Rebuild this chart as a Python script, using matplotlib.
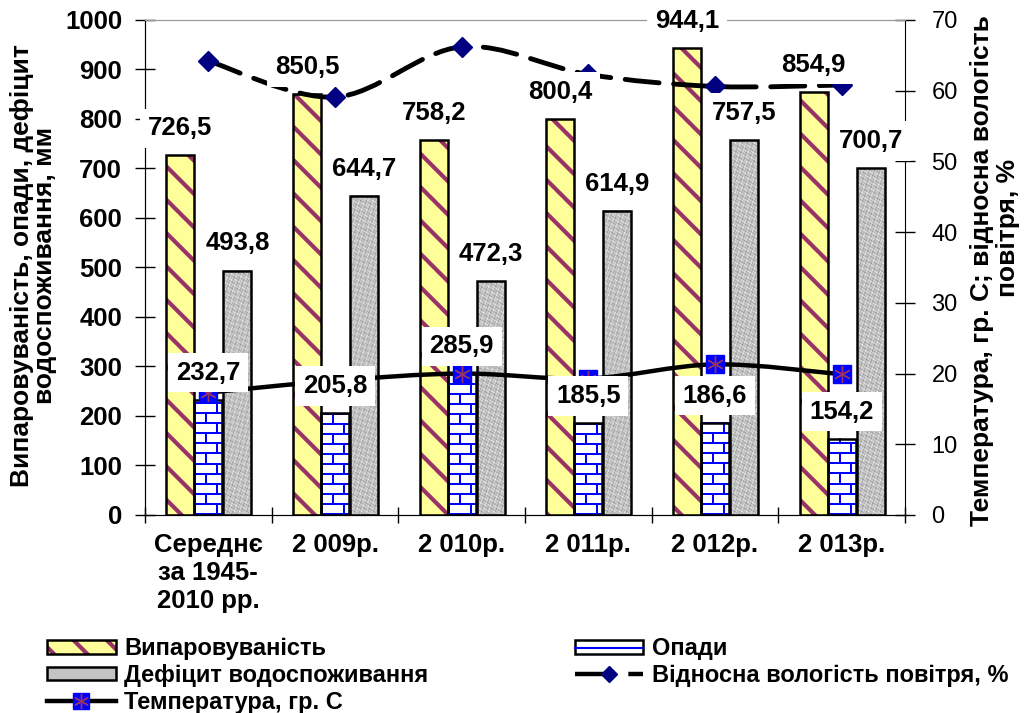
import numpy as np
import matplotlib
matplotlib.use('Agg')
import matplotlib.pyplot as plt
from matplotlib.font_manager import FontProperties
from matplotlib.patches import Patch, PathPatch
from matplotlib.lines import Line2D
from matplotlib.path import Path

# data
categories = ['Середнє\nза 1945-\n2010 рр.', '2 009р.', '2 010р.', '2 011р.', '2 012р.', '2 013р.']
evaporation = [726.5, 850.5, 758.2, 800.4, 944.1, 854.9]
precipitation = [232.7, 205.8, 285.9, 185.5, 186.6, 154.2]
deficit = [493.8, 644.7, 472.3, 614.9, 757.5, 700.7]
humidity = [64.2, 59.1, 66.2, 62.3, 60.6, 60.8]
temperature = [17.3, 19.0, 20.0, 19.3, 21.3, 19.9]

plt.rcParams['font.family'] = ['Liberation Sans', 'DejaVu Sans']
plt.rcParams['hatch.linewidth'] = 3.0

YELLOW = '#FFFF99'
MAROON = '#993366'
NAVY = '#000080'
BLUE = '#0000FF'


def smooth_path(xs, ys):
    # catmull-rom style smoothing like excel's "smoothed line"
    pts = np.column_stack([xs, ys]).astype(float)
    ext = np.vstack([pts[0], pts, pts[-1]])
    verts = [pts[0]]
    codes = [Path.MOVETO]
    for i in range(len(pts) - 1):
        p0, p1, p2, p3 = ext[i], ext[i + 1], ext[i + 2], ext[i + 3]
        verts += [p1 + (p2 - p0) / 6, p2 - (p3 - p1) / 6, p2]
        codes += [Path.CURVE4] * 3
    return Path(verts, codes)


def brick_texture(h, w):
    r = np.arange(h)[:, None]
    c = np.arange(w)[None, :]
    horiz = (r % 10) < 2
    vert = ((c + ((r // 10) % 2) * 11) % 22) < 2
    img = np.ones((h, w, 3))
    img[horiz | vert] = [0.0, 0.0, 1.0]
    return img


def granite_texture(h, w):
    r = np.arange(h)[:, None]
    c = np.arange(w)[None, :]
    v = (0.76 + 0.08 * np.sin(c * 0.8 + r * 0.45) * np.cos(r * 0.7 - c * 0.5)
         + 0.05 * np.sin(r * 1.9 + c * 1.3) - 0.05 * np.cos(c * 2.3 - r * 0.9))
    v = np.clip(v, 0, 1)
    return np.dstack([v, v, v])


fig = plt.figure(figsize=(10.24, 7.13), dpi=100)
ax = fig.add_axes([0.1416, 0.2777, 0.7422, 0.6943])
ax2 = ax.twinx()

x = np.arange(len(categories))
w = 0.221
gap = 0.009
ymax = 1000
px_per_unit = 713 * 0.6943 / ymax
px_w = int(round(w * 1024 * 0.7422 / len(categories)))

# evaporation bars: hatched yellow, outlined in black
ax.bar(x - w, evaporation, w, color=YELLOW, edgecolor=MAROON, hatch='\\', linewidth=0, zorder=2)
ax.bar(x - w, evaporation, w, fill=False, edgecolor='black', linewidth=1.8, zorder=3)

# precipitation and deficit bars use picture fills
for xi, p, d in zip(x, precipitation, deficit):
    hp = max(int(round(p * px_per_unit)), 1)
    ax.imshow(brick_texture(hp, px_w), extent=[xi - w / 2, xi + w / 2, 0, p],
              origin='lower', aspect='auto', interpolation='nearest', zorder=2)
    hd = max(int(round(d * px_per_unit)), 1)
    ax.imshow(granite_texture(hd, px_w), extent=[xi + gap + w / 2, xi + gap + 1.5 * w, 0, d],
              origin='lower', aspect='auto', interpolation='bilinear', zorder=2)
ax.bar(x, precipitation, w, fill=False, edgecolor='black', linewidth=1.8, zorder=3)
ax.bar(x + w + gap, deficit, w, fill=False, edgecolor='black', linewidth=1.8, zorder=3)

ax.set_xlim(-0.5, len(categories) - 0.5)
ax.set_ylim(0, ymax)
ax.set_yticks(np.arange(0, 1001, 100))
ax.set_xticks(x)
ax.set_xticklabels(categories, fontsize=18.5, fontweight='bold', linespacing=1.2)
ax.set_xticks(np.arange(-0.5, len(categories), 1), minor=True)
ax.tick_params(axis='x', which='major', length=0, pad=13)
ax.tick_params(axis='x', which='minor', direction='inout', length=12, width=1)
ax.tick_params(axis='y', direction='inout', length=14, width=1, pad=9.5, labelsize=18.5)
for t in ax.get_yticklabels():
    t.set_fontweight('bold')
ax.spines['top'].set_color('#9a9a9a')
ax.spines['right'].set_visible(False)

# right axis lines
ax2.set_ylim(0, 70)
ax2.set_yticks(np.arange(0, 71, 10))
ax2.tick_params(axis='y', direction='inout', length=14, width=1, pad=12, labelsize=17)
ax2.spines['top'].set_color('#9a9a9a')

ax2.add_patch(PathPatch(smooth_path(x, humidity), fill=False, edgecolor='black', linewidth=3.5,
                        linestyle=(0, (7, 3)), capstyle='round', zorder=3))
ax2.plot(x, humidity, linestyle='none', marker='D', markersize=10.5, color=NAVY, zorder=4)

ax2.add_patch(PathPatch(smooth_path(x, temperature), fill=False, edgecolor='black', linewidth=3.2, zorder=3))
ax2.plot(x, temperature, linestyle='none', marker='s', markersize=12.5, color=BLUE, zorder=4)
ax2.plot(x, temperature, linestyle='none', marker=(6, 2, 0), markersize=12, color=MAROON,
         markeredgewidth=1, zorder=5)

# value labels, drawn on the twin axes so they cover the lines
box = dict(facecolor='white', edgecolor='none', boxstyle='square,pad=0.3')
series = [(x - w, evaporation), (x, precipitation), (x + w + gap, deficit)]
for xs, vals in series:
    for xi, v in zip(xs, vals):
        ax2.annotate(f'{v:.1f}'.replace('.', ','), xy=(xi, v), xycoords=ax.transData,
                     xytext=(0, 19.5), textcoords='offset points', ha='center', va='center',
                     fontsize=18.5, fontweight='bold', bbox=box, zorder=10, annotation_clip=False)

# axis titles
fig.text(0.0215, 0.628, 'Випаровуваність, опади, дефіцит', rotation=90,
         ha='center', va='center', fontsize=19, fontweight='bold')
fig.text(0.044, 0.628, 'водоспоживання, мм', rotation=90,
         ha='center', va='center', fontsize=19, fontweight='bold')
fig.text(0.959, 0.621, 'Температура, гр. С; відносна вологість', rotation=90,
         ha='center', va='center', fontsize=19, fontweight='bold')
fig.text(0.984, 0.680, 'повітря, %', rotation=90,
         ha='center', va='center', fontsize=19, fontweight='bold')

# legend
h_evap = (Patch(facecolor=YELLOW, edgecolor=MAROON, hatch='\\', linewidth=0),
          Patch(fill=False, edgecolor='black', linewidth=1.8))
h_def = Patch(facecolor='#c4c4c4', edgecolor='black', linewidth=1.8)
h_temp = (Line2D([], [], color='black', linewidth=3.2, marker='s', markersize=11,
                 markerfacecolor=BLUE, markeredgecolor=BLUE),
          Line2D([], [], linestyle='none', marker=(6, 2, 0), markersize=11, color=MAROON,
                 markeredgewidth=1))
h_prec = (Patch(facecolor='white', edgecolor='black', linewidth=1.8),
          Line2D([], [], color=BLUE, linewidth=1.5))
h_hum = Line2D([], [], color='black', linewidth=3.2, linestyle=(0, (9, 3)), marker='D',
               markersize=8, markerfacecolor=NAVY, markeredgecolor=NAVY)

leg_font = FontProperties(family=['Liberation Sans', 'DejaVu Sans'], weight='bold', size=17)
leg = fig.legend([h_evap, h_def, h_temp, h_prec, h_hum],
                 ['Випаровуваність', 'Дефіцит водоспоживання', 'Температура, гр. С',
                  'Опади', 'Відносна вологість повітря, %'],
                 ncol=2, loc='upper left', bbox_to_anchor=(0.046, 0.106), frameon=False,
                 borderpad=0, borderaxespad=0, handlelength=2.9, handleheight=0.5,
                 handletextpad=0.37, labelspacing=0.15, columnspacing=6.2, prop=leg_font)

fig.savefig('out.png', dpi=100)
